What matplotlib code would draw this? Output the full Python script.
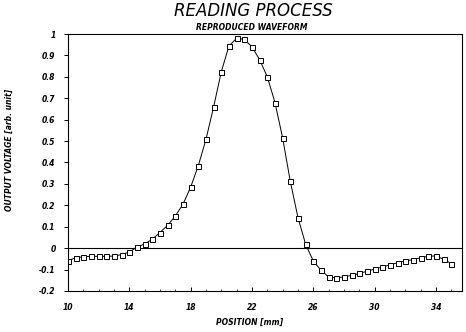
import matplotlib
matplotlib.use("Agg")
import matplotlib.pyplot as plt
import numpy as np

position_mm = [10.0, 10.5, 11.0, 11.5, 12.0, 12.5, 13.0, 13.5, 14.0, 14.5,
               15.0, 15.5, 16.0, 16.5, 17.0, 17.5, 18.0, 18.5, 19.0, 19.5,
               20.0, 20.5, 21.0, 21.5, 22.0, 22.5, 23.0, 23.5, 24.0, 24.5,
               25.0, 25.5, 26.0, 26.5, 27.0, 27.5, 28.0, 28.5, 29.0, 29.5,
               30.0, 30.5, 31.0, 31.5, 32.0, 32.5, 33.0, 33.5, 34.0, 34.5, 35.0]
output_voltage = [-0.058, -0.045, -0.040, -0.038, -0.038, -0.038, -0.037, -0.030, -0.018, 0.005,
                  0.020, 0.042, 0.073, 0.107, 0.150, 0.205, 0.285, 0.385, 0.508, 0.660,
                  0.824, 0.944, 0.980, 0.975, 0.940, 0.880, 0.800, 0.680, 0.515, 0.312,
                  0.143, 0.018, -0.060, -0.103, -0.134, -0.139, -0.134, -0.127, -0.118, -0.108,
                  -0.098, -0.088, -0.078, -0.068, -0.060, -0.053, -0.045, -0.038, -0.036, -0.052, -0.072]

xticks = [10, 14, 18, 22, 26, 30, 34]
yticks = [-0.2, -0.1, 0, 0.1, 0.2, 0.3, 0.4, 0.5, 0.6, 0.7, 0.8, 0.9, 1]
ytick_labels = ["-0.2", "-0.1", "0", "0.1", "0.2", "0.3", "0.4", "0.5", "0.6", "0.7", "0.8", "0.9", "1"]

fig = plt.figure(figsize=(4.66, 3.32), dpi=100)
ax = fig.add_axes([68/466, 41/332, (462-68)/466, (291-34)/332])

ax.plot(position_mm, output_voltage, color="black", linewidth=0.7,
        marker="s", markersize=3.6, markerfacecolor="white",
        markeredgecolor="black", markeredgewidth=0.7)
ax.axhline(0, color="black", linewidth=0.8, zorder=1)

ax.set_xlim(10, 35.7)
ax.set_ylim(-0.2, 1.0)
ax.set_xticks(xticks)
ax.set_xticklabels([str(t) for t in xticks])
ax.set_xticks(np.arange(10, 36, 1), minor=True)
ax.set_yticks(yticks)
ax.set_yticklabels(ytick_labels)

for s in ax.spines.values():
    s.set_linewidth(0.8)

ax.tick_params(axis="x", which="major", direction="in", length=3, width=0.7,
               labelsize=5.5, pad=9)
ax.tick_params(axis="x", which="minor", direction="in", length=1.5, width=0.5)
ax.tick_params(axis="y", which="major", direction="out", length=3, width=0.7,
               labelsize=5.5, pad=6)
for lab in ax.get_xticklabels() + ax.get_yticklabels():
    lab.set_fontstyle("italic")
    lab.set_fontweight("bold")

fig.text(253/466, 1 - 11/332, "READING PROCESS", ha="center", va="center",
         fontsize=12, fontstyle="italic", color="black")
fig.text(252/466, 1 - 28/332, "REPRODUCED WAVEFORM", ha="center", va="center",
         fontsize=5.5, fontstyle="italic", fontweight="bold", color="black")
fig.text(250/466, 1 - 322/332, "POSITION [mm]", ha="center", va="center",
         fontsize=5.5, fontstyle="italic", fontweight="bold", color="black")
fig.text(9/466, 1 - 150/332, "OUTPUT VOLTAGE [arb. unit]", ha="center", va="center",
         rotation=90, fontsize=5.5, fontstyle="italic", fontweight="bold", color="black")

fig.savefig("out.png", dpi=100)
